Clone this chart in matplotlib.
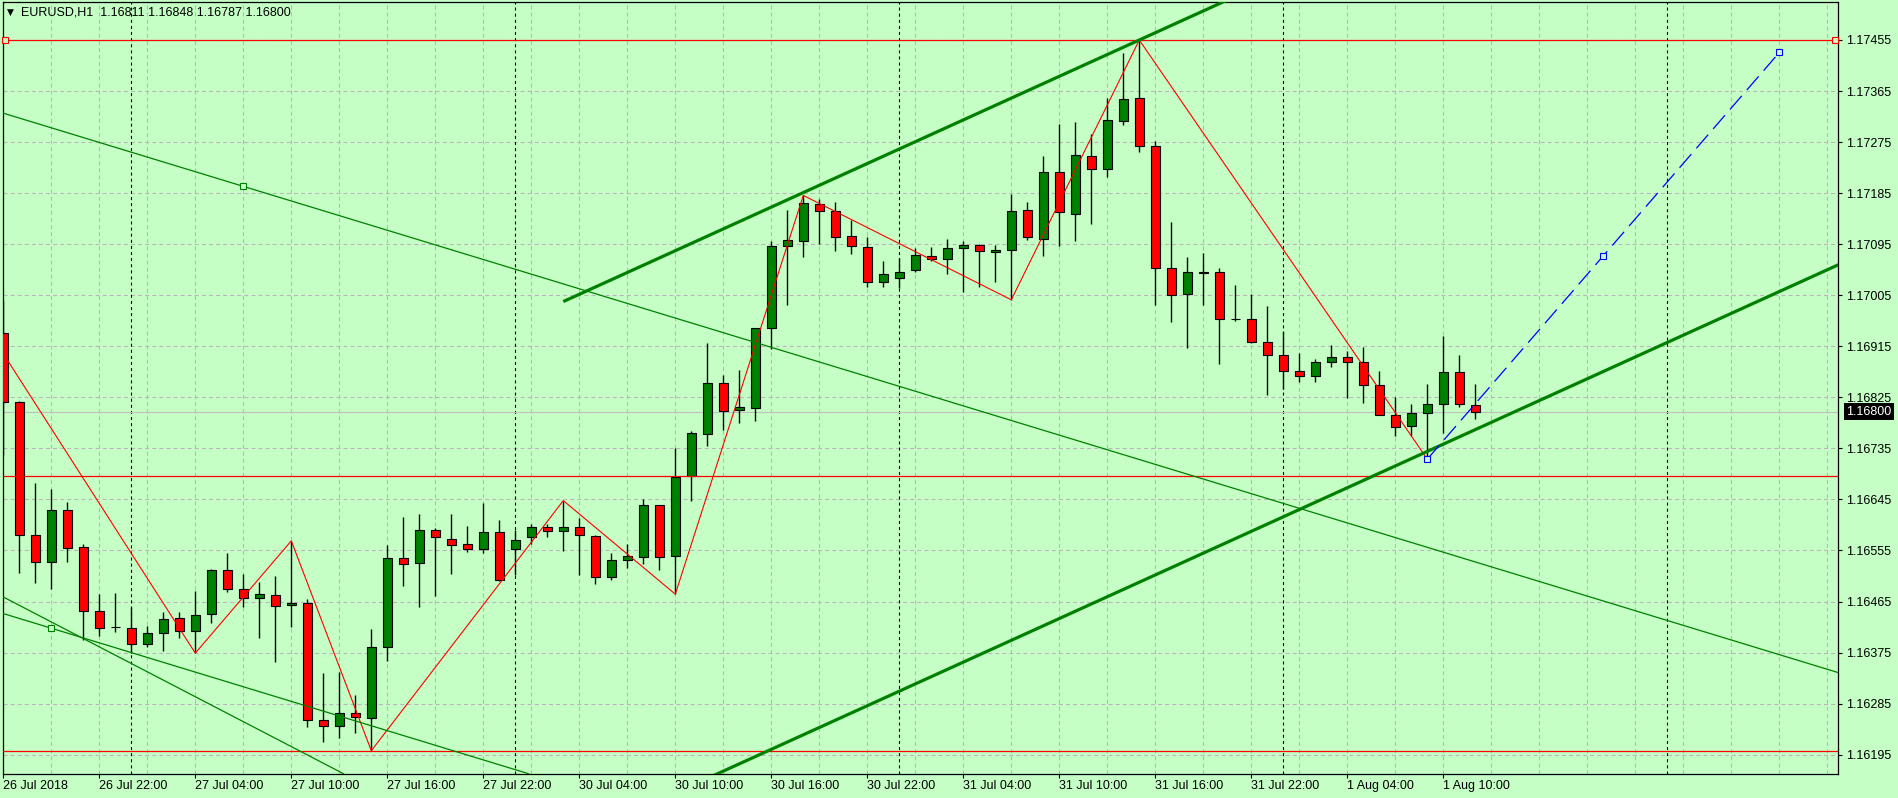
import matplotlib
matplotlib.use('Agg')
import matplotlib.pyplot as plt
from matplotlib.patches import Rectangle
from matplotlib.ticker import FixedLocator

plt.rcParams['lines.scale_dashes'] = False
plt.rcParams['font.family'] = ['Liberation Sans', 'DejaVu Sans']

# ---------------- data ----------------
symbol = "EURUSD,H1"

opens = [
    1.16938, 1.16816, 1.16582, 1.16535, 1.16627, 1.16562, 1.16448, 1.16421, 1.16418, 1.16390,
    1.16409, 1.16436, 1.16413, 1.16443, 1.16521, 1.16488, 1.16471, 1.16476, 1.16459, 1.16462,
    1.16257, 1.16245, 1.16269, 1.16259, 1.16384, 1.16541, 1.16533, 1.16592, 1.16576, 1.16566,
    1.16557, 1.16587, 1.16558, 1.16578, 1.16597, 1.16589, 1.16596, 1.16580, 1.16508, 1.16539,
    1.16544, 1.16635, 1.16546, 1.16686, 1.16761, 1.16851, 1.16803, 1.16806, 1.16947, 1.17092,
    1.17101, 1.17165, 1.17153, 1.17110, 1.17090, 1.17028, 1.17035, 1.17049, 1.17074, 1.17069,
    1.17088, 1.17094, 1.17081, 1.17085, 1.17156, 1.17105, 1.17223, 1.17149, 1.17250, 1.17227,
    1.17312, 1.17353, 1.17268, 1.17053, 1.17007, 1.17046, 1.17046, 1.16964, 1.16963, 1.16922,
    1.16899, 1.16872, 1.16862, 1.16887, 1.16897, 1.16888, 1.16846, 1.16794, 1.16774, 1.16797,
    1.16813, 1.16869, 1.16811]

highs = [
    1.16995, 1.16818, 1.16674, 1.16663, 1.16640, 1.16567, 1.16479, 1.16480, 1.16455, 1.16422,
    1.16446, 1.16446, 1.16484, 1.16522, 1.16550, 1.16514, 1.16500, 1.16510, 1.16572, 1.16469,
    1.16339, 1.16341, 1.16300, 1.16417, 1.16564, 1.16614, 1.16619, 1.16594, 1.16619, 1.16598,
    1.16639, 1.16609, 1.16591, 1.16601, 1.16601, 1.16643, 1.16612, 1.16583, 1.16550, 1.16566,
    1.16645, 1.16636, 1.16735, 1.16765, 1.16920, 1.16865, 1.16874, 1.16948, 1.17101, 1.17155,
    1.17181, 1.17174, 1.17169, 1.17137, 1.17108, 1.17065, 1.17071, 1.17088, 1.17090, 1.17105,
    1.17101, 1.17095, 1.17094, 1.17183, 1.17170, 1.17251, 1.17307, 1.17311, 1.17289, 1.17353,
    1.17432, 1.17455, 1.17277, 1.17135, 1.17072, 1.17079, 1.17053, 1.17023, 1.17007, 1.16986,
    1.16940, 1.16904, 1.16892, 1.16918, 1.16906, 1.16913, 1.16872, 1.16826, 1.16814, 1.16849,
    1.16934, 1.16899, 1.16848]

lows = [
    1.16724, 1.16516, 1.16497, 1.16488, 1.16535, 1.16398, 1.16405, 1.16412, 1.16374, 1.16384,
    1.16377, 1.16400, 1.16374, 1.16427, 1.16481, 1.16456, 1.16401, 1.16359, 1.16421, 1.16243,
    1.16217, 1.16224, 1.16233, 1.16202, 1.16361, 1.16492, 1.16456, 1.16474, 1.16513, 1.16552,
    1.16551, 1.16501, 1.16512, 1.16566, 1.16578, 1.16554, 1.16512, 1.16496, 1.16503, 1.16525,
    1.16531, 1.16521, 1.16478, 1.16642, 1.16739, 1.16767, 1.16780, 1.16783, 1.16910, 1.16987,
    1.17072, 1.17096, 1.17083, 1.17078, 1.17020, 1.17020, 1.17018, 1.17046, 1.17065, 1.17042,
    1.17011, 1.17019, 1.17029, 1.16997, 1.17103, 1.17075, 1.17091, 1.17101, 1.17131, 1.17214,
    1.17306, 1.17257, 1.16987, 1.16957, 1.16912, 1.16987, 1.16884, 1.16959, 1.16920, 1.16829,
    1.16840, 1.16852, 1.16852, 1.16878, 1.16824, 1.16815, 1.16793, 1.16756, 1.16756, 1.16716,
    1.16762, 1.16808, 1.16787]

closes = [
    1.16816, 1.16583, 1.16535, 1.16626, 1.16560, 1.16448, 1.16418, 1.16420, 1.16390, 1.16409,
    1.16434, 1.16413, 1.16441, 1.16521, 1.16487, 1.16471, 1.16478, 1.16457, 1.16463, 1.16257,
    1.16246, 1.16269, 1.16261, 1.16384, 1.16541, 1.16531, 1.16592, 1.16578, 1.16564, 1.16558,
    1.16587, 1.16503, 1.16574, 1.16596, 1.16589, 1.16596, 1.16582, 1.16508, 1.16539, 1.16546,
    1.16635, 1.16544, 1.16684, 1.16762, 1.16851, 1.16801, 1.16808, 1.16947, 1.17092, 1.17103,
    1.17167, 1.17153, 1.17108, 1.17092, 1.17028, 1.17042, 1.17046, 1.17076, 1.17069, 1.17088,
    1.17093, 1.17083, 1.17085, 1.17154, 1.17107, 1.17223, 1.17151, 1.17252, 1.17227, 1.17314,
    1.17351, 1.17268, 1.17053, 1.17005, 1.17046, 1.17045, 1.16964, 1.16963, 1.16922, 1.16899,
    1.16872, 1.16862, 1.16887, 1.16897, 1.16887, 1.16846, 1.16794, 1.16773, 1.16797, 1.16814,
    1.16869, 1.16813, 1.16800]

time_labels = ["26 Jul 2018", "26 Jul 22:00", "27 Jul 04:00", "27 Jul 10:00", "27 Jul 16:00",
               "27 Jul 22:00", "30 Jul 04:00", "30 Jul 10:00", "30 Jul 16:00", "30 Jul 22:00",
               "31 Jul 04:00", "31 Jul 10:00", "31 Jul 16:00", "31 Jul 22:00", "1 Aug 04:00",
               "1 Aug 10:00"]
time_label_bars = [0, 6, 12, 18, 24, 30, 36, 42, 48, 54, 60, 66, 72, 78, 84, 90]
day_start_bars = [8, 32, 56, 80, 104]

price_ticks = [1.16195, 1.16285, 1.16375, 1.16465, 1.16555, 1.16645, 1.16735, 1.16825,
               1.16915, 1.17005, 1.17095, 1.17185, 1.17275, 1.17365, 1.17455]

# ZigZag indicator vertices (bar index, price)
zz_bars = [-2, 12, 18, 23, 35, 42, 50, 63, 71, 89]
zz_prices = [1.16990, 1.16374, 1.16572, 1.16202, 1.16643, 1.16478, 1.17181, 1.16997, 1.17455, 1.16716]

# horizontal lines
hline_top = 1.17455
hline_bottom = 1.16202
hline_mid = 1.16686

# thin descending channel (two anchor points + parallel line anchor)
thin_ch_p1 = (0, 1.17326)
thin_ch_p2 = (15, 1.17197)
thin_ch_par = (3, 1.16418)
# steeper thin trendline
thin_tl_p1 = (0, 1.16473)
thin_tl_p2 = (20, 1.16180)

# thick ascending channel
thick_start_bar = 35
thick_p1 = (50, 1.17186)
thick_p2 = (71, 1.17455)
thick_width = 0.009559

# blue dashed projection
proj_bars = [89, 100, 111]
proj_prices = [1.16716, 1.17074, 1.17433]

# ---------------- style ----------------
BG = '#C5FFC5'
GRID = '#BDB3BD'
BULL = '#008000'
BEAR = '#FF0000'
LINE_GREEN = '#008000'

W, H = 1898, 798
fig = plt.figure(figsize=(W / 100, H / 100), dpi=100, facecolor=BG)
L, R, B, T = 2.7, 1838.0, 773.7, 1.7
ax = fig.add_axes([L / W, (H - B) / H, (R - L) / W, (B - T) / H])
ax.set_facecolor(BG)

x_left = (L - 3.3) / 16.0
x_right = (R - 3.3) / 16.0
y_top = 1.17455 + (40 - T) / 56722.0
y_bot = 1.17455 - (B - 40) / 56722.0
ax.set_xlim(x_left, x_right)
ax.set_ylim(y_bot, y_top)

# grid
ax.set_yticks(price_ticks)
ax.set_yticklabels([f"{p:.5f}" for p in price_ticks])
ax.set_xticks(time_label_bars)
ax.set_xticklabels(time_labels)
ax.xaxis.set_minor_locator(FixedLocator(list(range(0, 118, 3))))
dash_grid = (0, (2.9, 2.2))
ax.grid(True, which='both', axis='x', color=GRID, lw=0.75, ls=dash_grid, zorder=0.5)
ax.grid(True, which='major', axis='y', color=GRID, lw=0.75, ls=dash_grid, zorder=0.5)
ax.set_axisbelow(True)

ax.yaxis.tick_right()
ax.tick_params(axis='y', which='major', direction='out', length=3, width=0.8,
               pad=2.8, labelsize=9, colors='black')
ax.tick_params(axis='x', which='major', direction='out', length=3, width=0.8,
               pad=1.5, labelsize=9, colors='black')
ax.tick_params(axis='x', which='minor', length=0)
for lbl in ax.get_xticklabels():
    lbl.set_horizontalalignment('left')
for s in ax.spines.values():
    s.set_color('black')
    s.set_linewidth(0.9)

# day separators
for b in day_start_bars:
    ax.axvline(b, color='black', lw=0.8, ls=(0, (2.2, 2.2)), zorder=1)

# current price line
ax.axhline(closes[-1], color='#C0C0C0', lw=0.8, zorder=1.5)

# candles
bw = 0.5625
for i, (o, h, l, c) in enumerate(zip(opens, highs, lows, closes)):
    ax.vlines(i, l, h, color='black', lw=1.0, zorder=2)
    col = BULL if c > o else BEAR
    ax.add_patch(Rectangle((i - bw / 2, min(o, c)), bw, abs(c - o),
                           facecolor=col, edgecolor='black', lw=0.8, zorder=3))

# horizontal red lines
for yv in (hline_top, hline_bottom, hline_mid):
    ax.axhline(yv, color='red', lw=0.9, zorder=4)
ax.plot([x_left + 0.13, x_right - 0.19], [hline_top, hline_top], ls='none', marker='s',
        ms=4, mfc=BG, mec='red', mew=0.8, zorder=6, clip_on=False)

# zigzag
ax.plot(zz_bars, zz_prices, color='red', lw=0.8, zorder=4)

# thin channel
ax.axline(thin_ch_p1, thin_ch_p2, color=LINE_GREEN, lw=0.9, zorder=4)
slope_thin = (thin_ch_p2[1] - thin_ch_p1[1]) / (thin_ch_p2[0] - thin_ch_p1[0])
ax.axline(thin_ch_par, slope=slope_thin, color=LINE_GREEN, lw=0.9, zorder=4)
ax.axline(thin_tl_p1, thin_tl_p2, color=LINE_GREEN, lw=0.9, zorder=4)
ax.plot([thin_ch_p2[0], thin_ch_par[0]], [thin_ch_p2[1], thin_ch_par[1]], ls='none',
        marker='s', ms=4, mfc=BG, mec=LINE_GREEN, mew=0.8, zorder=6)

# thick channel (rays to the right)
slope_thick = (thick_p2[1] - thick_p1[1]) / (thick_p2[0] - thick_p1[0])
x_end = x_right + 5
y_up_start = thick_p1[1] + slope_thick * (thick_start_bar - thick_p1[0])
y_up_end = thick_p1[1] + slope_thick * (x_end - thick_p1[0])
ax.plot([thick_start_bar, x_end], [y_up_start, y_up_end], color=LINE_GREEN, lw=2.3,
        zorder=5, solid_capstyle='butt')
ax.plot([thick_start_bar, x_end], [y_up_start - thick_width, y_up_end - thick_width],
        color=LINE_GREEN, lw=2.3, zorder=5, solid_capstyle='butt')

# blue dashed projection
ax.plot([proj_bars[0], proj_bars[-1]], [proj_prices[0], proj_prices[-1]], color='#0000FF',
        lw=0.9, ls=(0, (13, 5.5)), zorder=5)
ax.plot(proj_bars, proj_prices, ls='none', marker='s', ms=4, mfc=BG, mec='#0000FF',
        mew=0.8, zorder=6)

# current price label on the axis
ax.annotate(f"{closes[-1]:.5f}", xy=(1, closes[-1]), xycoords=('axes fraction', 'data'),
            xytext=(5.8, 0), textcoords='offset points', ha='left', va='center',
            color='white', fontsize=9, zorder=10, annotation_clip=False,
            bbox=dict(boxstyle='square,pad=0.2', fc='black', ec='black', lw=0))

# header
fig.text(7 / W, 1 - 12.5 / H, '\u25BC', fontsize=6.5, family='DejaVu Sans',
         va='center', ha='left', color='black')
fig.text(21 / W, 1 - 12.7 / H,
         f"{symbol}  {opens[-1]:.5f} {highs[-1]:.5f} {lows[-1]:.5f} {closes[-1]:.5f}",
         fontsize=9, va='center', ha='left', color='black')

fig.savefig('out.png', dpi=100, facecolor=BG)
